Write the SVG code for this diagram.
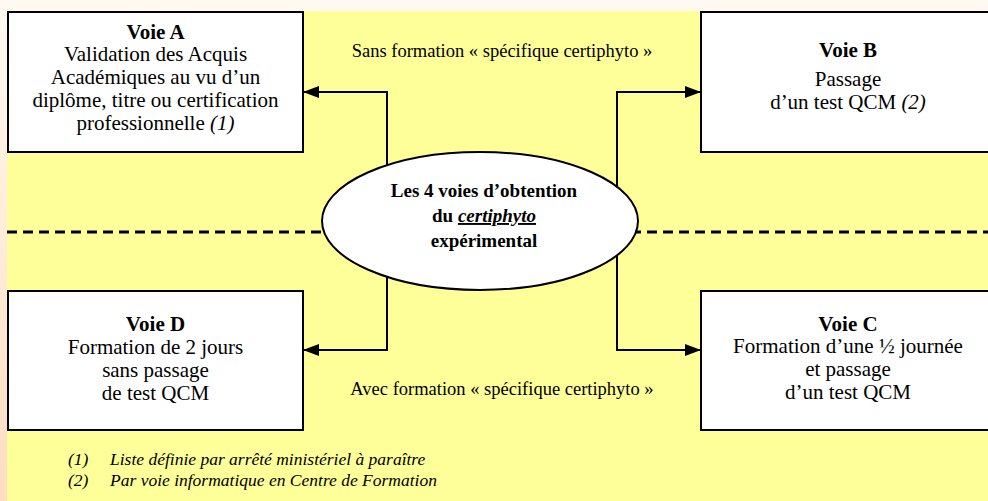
<svg xmlns="http://www.w3.org/2000/svg" width="988" height="501" viewBox="0 0 988 501">
<defs>
<linearGradient id="strip" x1="0" y1="0" x2="0" y2="1">
<stop offset="0" stop-color="#FFF9F1"/>
<stop offset="1" stop-color="#FFDDC0"/>
</linearGradient>
<marker id="arr" viewBox="0 0 16 12" refX="16" refY="6" markerWidth="16" markerHeight="12" markerUnits="userSpaceOnUse" orient="auto">
<path d="M0,0 L16,6 L0,12 Z" fill="#000"/>
</marker>
</defs>
<style>
text{font-family:'Liberation Serif','Times New Roman','DejaVu Serif',serif;fill:#000}
.box{fill:#fff;stroke:#000;stroke-width:2}
.t{font-size:21px;text-anchor:middle}
.b{font-weight:bold}
.lbl{font-size:18.5px;text-anchor:middle}
.fn{font-size:17.5px;font-style:italic}
.conn{fill:none;stroke:#000;stroke-width:2}
.et{font-size:19px;font-weight:bold;text-anchor:middle}
</style>
<rect width="988" height="501" fill="#FFF9F1"/>
<rect x="0" y="0" width="7" height="501" fill="url(#strip)"/>
<rect x="7" y="11" width="981" height="490" fill="#FFFF99"/>
<line x1="7" y1="232" x2="988" y2="232" stroke="#000" stroke-width="3" stroke-dasharray="10,6"/>
<g id="connectors">
<polyline class="conn" points="387,221 387,92 303,92" marker-end="url(#arr)"/>
<polyline class="conn" points="617,221 617,92 701,92" marker-end="url(#arr)"/>
<polyline class="conn" points="387,221 387,350 303,350" marker-end="url(#arr)"/>
<polyline class="conn" points="617,221 617,350 701,350" marker-end="url(#arr)"/>
</g>
<g id="center">
<ellipse cx="480" cy="221" rx="158" ry="69" fill="#fff" stroke="#000" stroke-width="2"/>
<text class="et" x="484" y="197">Les 4 voies d’obtention</text>
<text class="et" x="484" y="222">du <tspan font-style="italic" text-decoration="underline">certiphyto</tspan></text>
<text class="et" x="484" y="247">expérimental</text>
</g>
<g id="voieA">
<rect class="box" x="8" y="12" width="295" height="140"/>
<text class="t b" x="155.5" y="39">Voie A</text>
<text class="t" x="155.5" y="61">Validation des Acquis</text>
<text class="t" x="155.5" y="84">Académiques au vu d’un</text>
<text class="t" x="155.5" y="107">diplôme, titre ou certification</text>
<text class="t" x="155.5" y="130">professionnelle <tspan font-style="italic">(1)</tspan></text>
</g>
<g id="voieB">
<rect class="box" x="701" y="12" width="295" height="140"/>
<text class="t b" x="848" y="57">Voie B</text>
<text class="t" x="848" y="86">Passage</text>
<text class="t" x="848" y="109">d’un test QCM <tspan font-style="italic">(2)</tspan></text>
</g>
<g id="voieD">
<rect class="box" x="8" y="291" width="295" height="139"/>
<text class="t b" x="155.5" y="331">Voie D</text>
<text class="t" x="155.5" y="354">Formation de 2 jours</text>
<text class="t" x="155.5" y="377">sans passage</text>
<text class="t" x="155.5" y="400">de test QCM</text>
</g>
<g id="voieC">
<rect class="box" x="701" y="291" width="295" height="139"/>
<text class="t b" x="848" y="331">Voie C</text>
<text class="t" x="848" y="353">Formation d’une ½ journée</text>
<text class="t" x="848" y="376">et passage</text>
<text class="t" x="848" y="399">d’un test QCM</text>
</g>
<g id="labels">
<text class="lbl" x="502" y="57">Sans formation « spécifique certiphyto »</text>
<text class="lbl" x="502" y="395">Avec formation « spécifique certiphyto »</text>
</g>
<g id="footnotes">
<text class="fn" x="68" y="465">(1)</text>
<text class="fn" x="110" y="465">Liste définie par arrêté ministériel à paraître</text>
<text class="fn" x="68" y="486">(2)</text>
<text class="fn" x="110" y="486">Par voie informatique en Centre de Formation</text>
</g>
</svg>
